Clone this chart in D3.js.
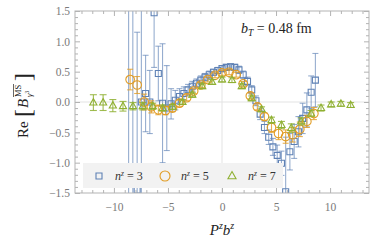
<!DOCTYPE html>
<html>
<head>
<meta charset="utf-8">
<script src="https://cdnjs.cloudflare.com/ajax/libs/d3/7.8.5/d3.min.js"></script>
<style>
body { margin: 0; background: #fff; }
svg { display: block; }
text { font-family: "Liberation Serif", "DejaVu Serif", serif; }
</style>
</head>
<body>
<svg id="canvas"></svg>
<script>
// n^z = 3 (squares)
let blueX = [-8.64, -8.25, -7.85, -7.46, -7.07, -6.68, -6.28, -5.89, -5.50, -5.11, -4.71, -4.32, -3.93, -3.53, -3.14,
             -2.75, -2.36, -1.96, -1.57, -1.18, -0.79, -0.39, 0, 0.39, 0.79, 1.18, 1.57, 1.96, 2.36, 2.75,
             3.14, 3.53, 3.93, 4.32, 4.71, 5.11, 5.50, 5.89, 6.28, 6.68, 7.07, 7.46, 7.85, 8.25, 8.64];
let blueY = [2.0, -2.0, -1.45, 0.0, 0.14, 0.0, 1.47, 0.47, -0.02, -0.1, -0.03, 0.03, 0.09, 0.14, 0.2,
             0.26, 0.31, 0.36, 0.41, 0.45, 0.49, 0.52, 0.55, 0.57, 0.58, 0.57, 0.53, 0.45, 0.34, 0.2,
             0.02, -0.2, -0.42, -0.58, -0.74, -0.88, -1.01, -1.48, -0.82, -0.65, -0.49, -0.27, -0.13, 0.16, 0.36];
let blueErr = [4.0, 4.0, 2.6, 2.0, 0.63, 0.52, 0.9, 0.45, 0.98, 0.7, 0.25, 0.16, 0.13, 0.11, 0.09,
               0.08, 0.07, 0.07, 0.06, 0.06, 0.05, 0.05, 0.05, 0.05, 0.05, 0.05, 0.06, 0.06, 0.07, 0.07,
               0.08, 0.09, 0.1, 0.12, 0.14, 0.17, 0.2, 0.9, 0.3, 0.28, 0.25, 0.25, 0.28, 0.27, 0.44];

// n^z = 5 (circles)
let orangeX = [-8.5, -7.85, -7.2, -6.54, -5.89, -5.23, -4.58, -3.93, -3.27, -2.62, -1.96, -1.31, -0.65, 0,
               0.65, 1.31, 1.96, 2.62, 3.27, 3.93, 4.58, 5.23, 5.89, 6.54, 7.2, 7.85, 8.5];
let orangeY = [0.37, 0.28, 0.0, -0.08, -0.13, -0.14, -0.1, -0.02, 0.07, 0.18, 0.28, 0.37, 0.44, 0.48,
               0.49, 0.45, 0.3, 0.1, -0.08, -0.24, -0.42, -0.52, -0.57, -0.54, -0.45, -0.32, -0.19];
let orangeErr = [0.17, 0.14, 0.13, 0.1, 0.08, 0.07, 0.06, 0.05, 0.05, 0.04, 0.04, 0.04, 0.04, 0.04,
                 0.04, 0.04, 0.04, 0.05, 0.05, 0.06, 0.08, 0.1, 0.11, 0.12, 0.12, 0.1, 0.1];

// n^z = 7 (triangles)
let greenX = [-11.9, -11.0, -10.1, -9.16, -8.24, -7.33, -6.41, -5.5, -4.58, -3.66, -2.75, -1.83, -0.92, 0,
              0.92, 1.83, 2.75, 3.66, 4.58, 5.5, 6.41, 7.33, 8.24, 9.16, 10.1, 11.0, 11.9];
let greenY = [-0.01, -0.01, -0.06, -0.07, -0.07, -0.07, -0.07, -0.1, -0.08, 0.0, 0.12, 0.26, 0.33, 0.37,
              0.36, 0.26, 0.06, -0.12, -0.3, -0.38, -0.43, -0.32, -0.19, -0.1, -0.04, -0.03, -0.05];
let greenErr = [0.13, 0.13, 0.1, 0.08, 0.06, 0.06, 0.05, 0.05, 0.04, 0.04, 0.04, 0.04, 0.04, 0.04,
                0.04, 0.04, 0.04, 0.04, 0.05, 0.06, 0.07, 0.06, 0.05, 0.05, 0.04, 0.04, 0.04];

let xMajor = [-10, -5, 0, 5, 10];
let yMajor = [-1.5, -1.0, -0.5, 0.0, 0.5, 1.0, 1.5];
let legendLabels = ["3", "5", "7"];

let width = 382;
let height = 243;
let pLeft = 75, pRight = 369, pTop = 11, pBottom = 193;

let blue = "#5E81B5", orange = "#E19C24", green = "#8FB032";
let frameColor = "#b3b3b3", labelColor = "#7a7a7a";

let canvas = d3.select("#canvas")
    .attr("width", width)
    .attr("height", height);

let xScale = d3.scaleLinear().domain([-13.6, 13.6]).range([pLeft, pRight]);
let yScale = d3.scaleLinear().domain([-1.5, 1.5]).range([pBottom, pTop]);

let xMinor = d3.range(-13, 14).filter(v => v % 5 !== 0);
let yMinor = d3.range(-15, 16).filter(v => v % 5 !== 0).map(v => v / 10);

// zero lines
canvas.append("line")
    .attr("x1", xScale(0)).attr("x2", xScale(0))
    .attr("y1", pTop).attr("y2", pBottom)
    .attr("stroke", "#e3e3e3");
canvas.append("line")
    .attr("x1", pLeft).attr("x2", pRight)
    .attr("y1", yScale(0)).attr("y2", yScale(0))
    .attr("stroke", "#e3e3e3");

canvas.append("clipPath").attr("id", "clip")
    .append("rect")
    .attr("x", pLeft).attr("y", pTop)
    .attr("width", pRight - pLeft).attr("height", pBottom - pTop);

let plot = canvas.append("g").attr("clip-path", "url(#clip)");

let drawSeries = (xs, ys, errs, color, cap, barOpacity, marker) => {
    let data = xs.map((x, i) => ({ x: x, y: ys[i], e: errs[i] }));
    let g = plot.append("g");
    let bars = g.selectAll("g.bar").data(data).enter().append("g")
        .attr("stroke", color)
        .attr("stroke-width", 1.1)
        .attr("stroke-opacity", barOpacity);
    bars.append("line")
        .attr("x1", d => xScale(d.x)).attr("x2", d => xScale(d.x))
        .attr("y1", d => yScale(d.y - d.e)).attr("y2", d => yScale(d.y + d.e));
    [-1, 1].forEach(s => {
        bars.append("line")
            .attr("x1", d => xScale(d.x) - cap).attr("x2", d => xScale(d.x) + cap)
            .attr("y1", d => yScale(d.y + s * d.e)).attr("y2", d => yScale(d.y + s * d.e));
    });
    g.selectAll("path.mark").data(data).enter().append("path")
        .attr("d", marker)
        .attr("transform", d => "translate(" + xScale(d.x) + "," + yScale(d.y) + ")")
        .attr("fill", "none")
        .attr("stroke", color)
        .attr("stroke-width", 1.1);
};

let squarePath = (s) => "M" + (-s) + "," + (-s) + "H" + s + "V" + s + "H" + (-s) + "Z";
let circlePath = (r) => "M" + (-r) + ",0A" + r + "," + r + " 0 1,0 " + r + ",0A" + r + "," + r + " 0 1,0 " + (-r) + ",0Z";
let trianglePath = (s) => "M0," + (-s) + "L" + (s * 0.9) + "," + (s * 0.6) + "L" + (-s * 0.9) + "," + (s * 0.6) + "Z";

drawSeries(blueX, blueY, blueErr, blue, 3, 0.65, squarePath(3));
drawSeries(orangeX, orangeY, orangeErr, orange, 3, 0.8, circlePath(4.3));
drawSeries(greenX, greenY, greenErr, green, 3.5, 0.85, trianglePath(4));

// frame and ticks
let styleAxis = (g) => {
    g.select(".domain").remove();
    g.selectAll(".tick line").attr("stroke", frameColor);
    g.selectAll(".tick text")
        .attr("fill", labelColor)
        .attr("font-size", "11.5px");
};

let addAxis = (gen, transform, values, size, pad, fmt) => {
    canvas.append("g")
        .attr("transform", transform)
        .call(gen.tickValues(values).tickSize(size).tickPadding(pad).tickFormat(fmt))
        .call(styleAxis);
};

let noLabel = () => "";
let xFmt = d3.format("d");
let yFmt = d3.format(".1f");

addAxis(d3.axisBottom(xScale), "translate(0," + pBottom + ")", xMajor, -5, 10, xFmt);
addAxis(d3.axisBottom(xScale), "translate(0," + pBottom + ")", xMinor, -3, 10, noLabel);
addAxis(d3.axisTop(xScale), "translate(0," + pTop + ")", xMajor, -5, 0, noLabel);
addAxis(d3.axisTop(xScale), "translate(0," + pTop + ")", xMinor, -3, 0, noLabel);
addAxis(d3.axisLeft(yScale), "translate(" + pLeft + ",0)", yMajor, -5, 5, yFmt);
addAxis(d3.axisLeft(yScale), "translate(" + pLeft + ",0)", yMinor, -3, 5, noLabel);
addAxis(d3.axisRight(yScale), "translate(" + pRight + ",0)", yMajor, -5, 0, noLabel);
addAxis(d3.axisRight(yScale), "translate(" + pRight + ",0)", yMinor, -3, 0, noLabel);

canvas.append("rect")
    .attr("x", pLeft).attr("y", pTop)
    .attr("width", pRight - pLeft).attr("height", pBottom - pTop)
    .attr("fill", "none")
    .attr("stroke", frameColor);

// legend
canvas.append("rect")
    .attr("x", 83).attr("y", 163)
    .attr("width", 200).attr("height", 25)
    .attr("fill", "#f2f2f2");

let legendMarks = [squarePath(3), circlePath(5), trianglePath(4.5)];
let legendColors = [blue, orange, green];
let legendX = [99, 165, 232];

legendLabels.forEach((lab, i) => {
    canvas.append("path")
        .attr("d", legendMarks[i])
        .attr("transform", "translate(" + legendX[i] + ",176)")
        .attr("fill", "none")
        .attr("stroke", legendColors[i])
        .attr("stroke-width", 1.1);
    let t = canvas.append("text")
        .attr("x", legendX[i] + 16).attr("y", 180)
        .attr("font-size", "12px")
        .attr("fill", "#333");
    t.append("tspan").attr("font-style", "italic").text("n");
    t.append("tspan").attr("font-style", "italic").attr("font-size", "7.5px").attr("dy", -4).text("z");
    t.append("tspan").attr("dy", 4).text(" = " + lab);
});

// annotation
let note = canvas.append("text")
    .attr("x", 241).attr("y", 33)
    .attr("font-size", "14px")
    .attr("fill", "#222");
note.append("tspan").attr("font-style", "italic").text("b");
note.append("tspan").attr("font-style", "italic").attr("font-size", "9.5px").attr("dy", 3).text("T");
note.append("tspan").attr("dy", -3).text(" = 0.48 fm");

// x label
let xl = canvas.append("text")
    .attr("x", 222).attr("y", 235)
    .attr("text-anchor", "middle")
    .attr("font-size", "15px")
    .attr("fill", "#222");
xl.append("tspan").attr("font-style", "italic").text("P");
xl.append("tspan").attr("font-style", "italic").attr("font-size", "10px").attr("dy", -6).text("z");
xl.append("tspan").attr("font-style", "italic").attr("dy", 6).text("b");
xl.append("tspan").attr("font-style", "italic").attr("font-size", "10px").attr("dy", -6).text("z");

// y label
let yl = canvas.append("g")
    .attr("transform", "translate(28,100) rotate(-90)")
    .attr("fill", "#222");
yl.append("text").attr("x", -38).attr("y", 0).attr("font-size", "15px").text("Re");
yl.append("text").attr("x", -17).attr("y", 3).attr("font-size", "24px").text("[");
yl.append("text").attr("x", -8).attr("y", 0).attr("font-size", "15px").attr("font-style", "italic").text("B");
yl.append("text").attr("x", 3).attr("y", -7).attr("font-size", "8.5px").text("MS");
yl.append("line").attr("x1", 3).attr("x2", 16).attr("y1", -14.5).attr("y2", -14.5)
    .attr("stroke", "#222").attr("stroke-width", 0.7);
let sub = yl.append("text").attr("x", 3).attr("y", 4).attr("font-size", "8.5px").attr("font-style", "italic");
sub.append("tspan").text("γ");
sub.append("tspan").attr("font-style", "normal").attr("font-size", "6px").attr("dy", -3).text("3");
yl.append("text").attr("x", 19).attr("y", 3).attr("font-size", "24px").text("]");
</script>
</body>
</html>
